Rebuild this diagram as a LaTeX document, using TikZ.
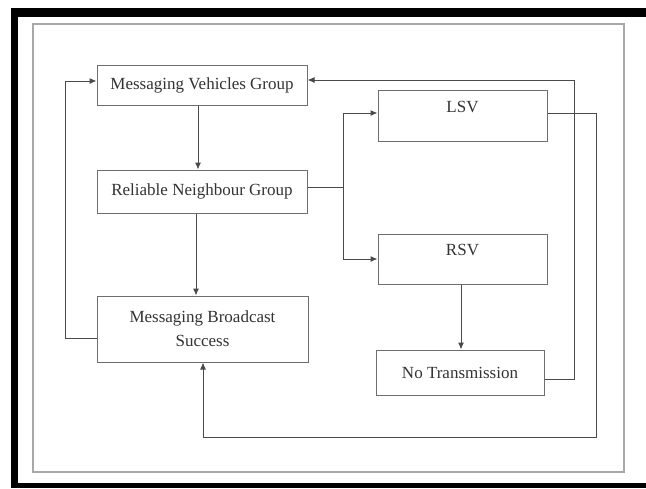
\documentclass[tikz,border=0pt]{standalone}
\usepackage{fontspec}
\setmainfont{Liberation Serif}
\usetikzlibrary{arrows.meta,calc}
\definecolor{boxgray}{HTML}{6E6E6E}
\definecolor{linegray}{HTML}{4A4A4A}
\definecolor{framegray}{HTML}{A8A8A8}
\definecolor{txt}{HTML}{333333}
\begin{document}
\begin{tikzpicture}[x=1pt,y=-1pt,
 box/.style={draw=boxgray,line width=1pt,inner sep=0pt,font=\fontsize{17}{24}\selectfont,text=txt,align=center},
 conn/.style={draw=linegray,line width=1pt},
 arr/.style={conn,-{Latex[length=7pt,width=6pt]}}]
\useasboundingbox (0,0) rectangle (646,488);
\fill[white] (0,0) rectangle (646,488);
\fill[black] (11,8) rectangle (646,17);
\fill[black] (11,8) rectangle (18,488);
\fill[black] (11,483) rectangle (646,488);
\draw[framegray,line width=1.5pt] (33,24) rectangle (624,472);
% nodes
\node[box,minimum width=210pt,minimum height=40pt] (mvg) at (202,85) {Messaging Vehicles Group};
\node[box,minimum width=210pt,minimum height=43pt] (rng) at (202,191.5) {Reliable Neighbour Group};
\node[box,minimum width=211pt,minimum height=66pt] (mbs) at (202.5,329) {Messaging Broadcast\\Success};
\node[box,minimum width=169pt,text height=22.5pt,text depth=28.5pt] (lsv) at (462.5,115.5) {LSV};
\node[box,minimum width=169pt,text height=21.5pt,text depth=28.5pt] (rsv) at (462.5,259) {RSV};
\node[box,minimum width=168pt,minimum height=45pt] (nt) at (460,372.5) {No Transmission};
% route coordinates
\coordinate (c1) at (198,0);
\coordinate (c2) at (196,0);
\coordinate (c3) at (0,338);
\coordinate (c4) at (65,0);
\coordinate (c5) at (0,81);
\coordinate (c6) at (0,187);
\coordinate (c7) at (343,0);
\coordinate (c8) at (0,113);
\coordinate (c9) at (0,259);
\coordinate (c10) at (596,0);
\coordinate (c11) at (0,437);
\coordinate (c12) at (203,0);
\coordinate (c13) at (0,379);
\coordinate (c14) at (574,0);
\coordinate (c15) at (0,80);
\coordinate (c16) at (461,0);
% connectors
\draw[arr] (mvg.south -| c1) -- (rng.north -| c1);
\draw[arr] (rng.south -| c2) -- (mbs.north -| c2);
\draw[arr] (mbs.west |- c3) -- (c4 |- c3) -- (c4 |- c5) -- (mvg.west |- c5);
\draw[conn] (rng.east |- c6) -- (c7 |- c6);
\draw[arr] (c7 |- c6) -- (c7 |- c8) -- (lsv.west |- c8);
\draw[arr] (c7 |- c6) -- (c7 |- c9) -- (rsv.west |- c9);
\draw[arr] (lsv.east |- c8) -- (c10 |- c8) -- (c10 |- c11) -- (c12 |- c11) -- (mbs.south -| c12);
\draw[arr] (nt.east |- c13) -- (c14 |- c13) -- (c14 |- c15) -- (mvg.east |- c15);
\draw[arr] (rsv.south -| c16) -- (nt.north -| c16);
\end{tikzpicture}
\end{document}
